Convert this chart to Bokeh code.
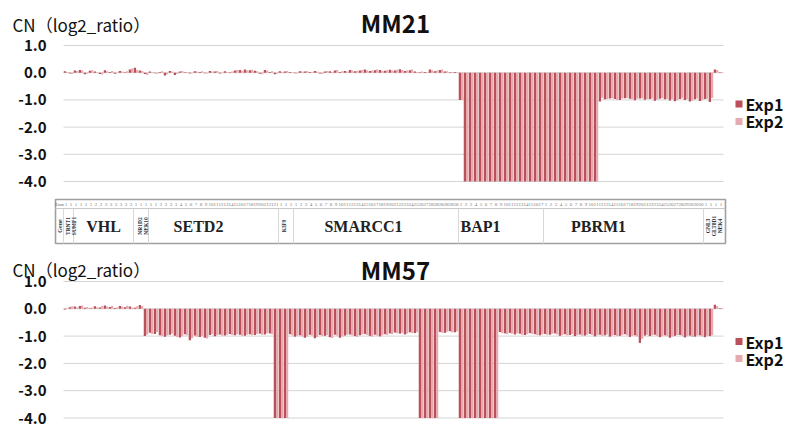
import numpy as np
from bokeh.plotting import figure
from bokeh.models import ColumnDataSource, Range1d
from bokeh.layouts import column
from bokeh.embed import file_html
from bokeh.resources import INLINE
from bokeh.core.properties import value

# ---------------- data ----------------
N_PROBES = 132
PROBES = list(range(N_PROBES))
SERIES = ["Exp1", "Exp2"]
Y_TICKS = [1.0, 0.0, -1.0, -2.0, -3.0, -4.0]
Y_TICK_LABELS = ["1.0", "0.0", "-1.0", "-2.0", "-3.0", "-4.0"]
Y_LABEL = "CN（log2_ratio）"

MM21_EXP1 = [
    0.05, -0.03, 0.08, 0.10, -0.06, 0.07, 0.04, -0.05, 0.09, 0.03,
    -0.04, 0.06, 0.02, 0.12, 0.18, 0.08, -0.05, 0.04, -0.02, 0.03,
    -0.10, 0.06, -0.08, 0.04, 0.02, -0.03, 0.05, 0.03, -0.02, 0.06,
    0.04, -0.03, 0.05, 0.02, 0.08, 0.10, 0.12, 0.09, 0.07, -0.04,
    0.10, 0.03, -0.06, 0.05, 0.04, 0.03, -0.02, 0.05, 0.04, 0.03,
    0.06, -0.03, 0.04, 0.05, 0.08, 0.03, 0.06, 0.10, 0.05, 0.08,
    0.12, 0.06, 0.09, 0.10, 0.07, 0.11, 0.08, 0.13, 0.06, 0.09,
    0.04, 0.02, 0.03, 0.12, 0.05, 0.10, 0.04, 0.02, 0.03,
    -1.00,
    -4.0, -4.0, -4.0, -4.0, -4.0, -4.0, -4.0, -4.0, -4.0, -4.0,
    -4.0, -4.0, -4.0, -4.0, -4.0, -4.0, -4.0, -4.0, -4.0, -4.0,
    -4.0, -4.0, -4.0, -4.0, -4.0, -4.0, -4.0,
    -1.06, -0.98, -0.95, -0.97, -1.00, -0.94, -0.96, -1.01, -0.95, -0.99,
    -0.97, -1.03, -0.96, -0.98, -1.02, -1.05, -0.97, -1.00, -1.06, -0.98,
    -1.04, -0.97, -1.08,
    0.12, 0.02,
]
MM21_EXP2 = [
    0.03, -0.05, 0.06, 0.08, -0.04, 0.09, 0.02, -0.07, 0.05, 0.06,
    -0.02, 0.04, 0.05, 0.15, 0.10, 0.06, -0.08, 0.02, -0.04, 0.05,
    -0.07, 0.04, -0.05, 0.06, 0.03, -0.02, 0.04, 0.05, -0.03, 0.04,
    0.06, -0.02, 0.03, 0.04, 0.10, 0.07, 0.09, 0.11, 0.05, -0.06,
    0.08, 0.05, -0.04, 0.03, 0.06, 0.02, -0.03, 0.04, 0.06, 0.02,
    0.04, -0.05, 0.06, 0.03, 0.10, 0.05, 0.04, 0.08, 0.07, 0.10,
    0.09, 0.08, 0.12, 0.07, 0.09, 0.08, 0.11, 0.10, 0.08, 0.12,
    0.03, 0.04, 0.02, 0.09, 0.08, 0.12, 0.05, 0.03, 0.02,
    -1.00,
    -4.0, -4.0, -4.0, -4.0, -4.0, -4.0, -4.0, -4.0, -4.0, -4.0,
    -4.0, -4.0, -4.0, -4.0, -4.0, -4.0, -4.0, -4.0, -4.0, -4.0,
    -4.0, -4.0, -4.0, -4.0, -4.0, -4.0, -4.0,
    -0.92, -0.97, -0.94, -0.99, -0.95, -0.93, -0.98, -0.96, -0.94, -0.97,
    -0.95, -0.99, -0.93, -0.96, -0.97, -1.01, -0.94, -0.98, -1.03, -0.95,
    -1.01, -0.96, -0.93,
    0.10, 0.02,
]
MM57_EXP1 = [
    -0.03, 0.06, 0.08, 0.10, 0.04, 0.02, 0.09, 0.05, 0.12, 0.07,
    0.03, 0.10, 0.06, 0.08, 0.04, 0.14,
    -1.00, -0.88, -0.92, -0.97, -1.02, -0.95, -0.99, -1.05, -0.93, -1.15,
    -0.98, -1.03, -1.06, -0.96, -1.01, -0.94, -0.98, -0.92, -0.97, -0.95,
    -0.99, -0.93, -0.96, -0.91, -0.94, -0.90,
    -4.0, -4.0, -4.0,
    -0.93, -1.02, -0.97, -1.06, -0.95, -1.08, -0.96, -0.99, -1.04, -0.95,
    -1.06, -0.98, -0.94, -1.00, -0.97, -0.92, -0.99, -0.95, -1.01, -0.93,
    -0.90, -0.87, -0.91, -0.94, -0.86, -0.89,
    -4.0, -4.0, -4.0, -4.0,
    -0.85, -0.88, -0.82, -0.86,
    -4.0, -4.0, -4.0, -4.0, -4.0, -4.0, -4.0, -4.0,
    -0.85, -0.90, -0.88, -0.94, -0.91, -0.96, -0.89, -0.93, -0.97, -0.92,
    -0.95, -0.90, -0.99, -0.93, -0.96, -1.00, -0.94, -0.98, -0.92, -1.01,
    -0.95, -0.97, -1.02, -0.96, -0.99, -0.93, -1.03, -0.97, -1.25, -0.98,
    -1.00, -0.95, -1.04, -0.97, -1.06, -0.99, -0.96, -1.05, -0.98, -1.02,
    -0.97, -1.04, -1.00,
    0.15, 0.02,
]
MM57_EXP2 = [
    0.02, 0.09, 0.05, 0.12, 0.07, 0.05, 0.06, 0.10, 0.08, 0.11,
    0.06, 0.08, 0.11, 0.05, 0.09, 0.10,
    -0.95, -0.92, -0.86, -1.00, -0.98, -0.91, -1.03, -1.01, -0.97, -1.08,
    -1.02, -0.99, -1.09, -0.93, -0.97, -0.98, -0.95, -0.96, -0.93, -0.99,
    -0.95, -0.97, -0.92, -0.95, -0.90, -0.93,
    -4.0, -4.0, -4.0,
    -0.97, -0.99, -1.01, -1.02, -0.98, -1.04, -0.99, -0.96, -1.07, -0.98,
    -1.02, -0.95, -0.97, -1.03, -0.94, -0.96, -1.02, -0.98, -0.97, -0.96,
    -0.93, -0.90, -0.88, -0.91, -0.89, -0.86,
    -4.0, -4.0, -4.0, -4.0,
    -0.88, -0.84, -0.87, -0.83,
    -4.0, -4.0, -4.0, -4.0, -4.0, -4.0, -4.0, -4.0,
    -0.89, -0.93, -0.91, -0.90, -0.95, -0.93, -0.92, -0.96, -0.94, -0.95,
    -0.92, -0.94, -0.96, -0.97, -0.93, -0.97, -0.98, -0.95, -0.96, -0.97,
    -0.99, -0.94, -0.98, -1.00, -0.96, -0.97, -0.99, -1.01, -1.10, -0.95,
    -0.97, -0.99, -1.01, -1.00, -1.02, -0.96, -0.99, -1.01, -1.03, -0.98,
    -1.01, -0.99, -0.97,
    0.10, 0.03,
]

# gene annotation table
GENE_NAMES = ["TRNT1\nSUMF1", "VHL", "NR1D2\nNEK10", "SETD2", "KIF9",
              "SMARCC1", "BAP1", "PBRM1", "GNL3\nGLT8D1\nNEK4"]
GENE_FIRST = [0, 2, 14, 17, 43, 46, 79, 96, 128]
GENE_LAST = [1, 13, 16, 42, 45, 78, 95, 127, 131]
GENE_BIG = [False, True, False, True, False, True, True, True, False]
EXON_LABELS = (
    "1 1 "
    "1 1 1 1 2 2 3 3 3 3 3 3 "
    "1 1 1 "
    "1 1 2 2 3 3 4 5 6 7 8 9 10 11 12 13 14 15 16 17 18 19 20 21 21 21 "
    "1 1 1 "
    "1 2 3 4 5 6 7 8 9 10 11 12 13 14 15 16 17 18 19 20 21 22 23 24 25 26 27 28 28 28 28 28 28 "
    "1 2 3 4 5 6 7 8 9 10 11 12 13 14 15 16 17 "
    "1 2 3 4 5 6 7 8 9 10 11 12 13 14 15 16 17 18 19 20 21 22 23 24 25 26 27 28 29 30 30 30 "
    "1 1 1 1"
).split()

for arr in (MM21_EXP1, MM21_EXP2, MM57_EXP1, MM57_EXP2, EXON_LABELS):
    assert len(arr) == N_PROBES, len(arr)

# ---------------- style / layout ----------------
W = 786
PX_PER_PROBE = 5.0
FRAME_X0 = 63.0            # pixel where probe -0.5 starts
X_START = -0.5 - FRAME_X0 / PX_PER_PROBE
X_END = X_START + W / PX_PER_PROBE
C_EXP1 = "#bb4f5a"
C_EXP2 = "#e6aab0"
TXT = "#111111"
SANS = "Noto Sans CJK JP"
SERIF = "Liberation Serif"
DODGE = 0.225
BAR_W = 0.45
TICK_X = -3.9              # right edge of tick labels (probe units)
CN_X = -10.7
TITLE_X = 65.9
LEG_MARK_X = 134.6
LEG_TEXT_X = 135.9
GENE_LABEL_AT = [0.9, 7.5, 15.3, 26.5, 43.5, 59.5, 82.9, 106.5, 129.5]


def base_fig(height, y0, y1):
    p = figure(width=W, height=height, x_range=Range1d(X_START, X_END),
               y_range=Range1d(y0, y1), x_axis_type=None, y_axis_type=None,
               output_backend="svg", toolbar_location=None,
               min_border=0, min_border_left=0, min_border_right=0,
               min_border_top=0, min_border_bottom=0)
    p.outline_line_color = None
    p.background_fill_color = "white"
    p.border_fill_color = "white"
    return p


def chart(name, exp1, exp2, height, px_unit, px_one, cn_y, title_y, leg_y):
    y_top = 1.0 + px_one / px_unit
    y_bot = 1.0 - (height - px_one) / px_unit
    p = base_fig(height, y_bot, y_top)
    # grid lines at the tick values
    p.segment(x0=[-0.5] * len(Y_TICKS), x1=[N_PROBES - 0.5] * len(Y_TICKS),
              y0=Y_TICKS, y1=Y_TICKS, line_color="#d4d4d4", line_width=1)
    # tick labels
    p.text(x=[TICK_X] * len(Y_TICKS), y=Y_TICKS, text=Y_TICK_LABELS,
           text_font=value(SANS), text_font_size="15px", text_font_style="bold",
           text_color=TXT, text_align="right", text_baseline="middle")
    src = ColumnDataSource(dict(
        x1=[i - DODGE for i in PROBES], x2=[i + DODGE for i in PROBES],
        e1=exp1, e2=exp2))
    p.vbar(x="x1", width=BAR_W, top="e1", bottom=0, source=src,
           fill_color=C_EXP1, line_color=None)
    p.vbar(x="x2", width=BAR_W, top="e2", bottom=0, source=src,
           fill_color=C_EXP2, line_color=None)
    p.text(x=[CN_X], y=[cn_y], text=[Y_LABEL], text_font=value(SANS),
           text_font_size="17px", text_color=TXT, text_align="left",
           text_baseline="middle")
    p.text(x=[TITLE_X], y=[title_y], text=[name], text_font=value(SANS),
           text_font_size="24px", text_font_style="bold", text_color=TXT,
           text_align="center", text_baseline="middle")
    # legend
    p.scatter(x=[LEG_MARK_X] * 2, y=leg_y, marker="square", size=7,
              fill_color=[C_EXP1, C_EXP2], line_color=None)
    p.text(x=[LEG_TEXT_X] * 2, y=leg_y, text=SERIES, text_font=value(SANS),
           text_font_size="16px", text_font_style="bold", text_color=TXT,
           text_align="left", text_baseline="middle")
    return p


# top chart: page rows 0..191; 1.0 at px 45, 27.2 px per unit
top_chart = chart("MM21", MM21_EXP1, MM21_EXP2, 191, 27.2, 45,
                  1.77, 1.85, [-1.151, -1.794])

# ---------------- gene table (page rows 191..247) ----------------
T_H = 56
T_UNIT = 44.0
T_TOP_PX = 8.0
tbl = base_fig(T_H, -(T_H - T_TOP_PX - T_UNIT) / T_UNIT, 1.0 + T_TOP_PX / T_UNIT)
X0, X1 = -2.1, N_PROBES - 0.1
ROW = 0.795
tbl.quad(left=[X0], right=[X1], bottom=[0], top=[1], fill_color="white",
         line_color="#a0a0a0", line_width=1.6)
tbl.segment(x0=[X0], x1=[X1], y0=[ROW], y1=[ROW], line_color="#c8c8c8", line_width=1)
seps = [X0 + 1.6] + [f - 0.5 for f in GENE_FIRST[1:]]
tbl.segment(x0=seps, x1=seps, y0=[0] * len(seps), y1=[ROW] * len(seps),
            line_color="#d8d8d8", line_width=1)
tbl.text(x=PROBES, y=[(1 + ROW) / 2] * N_PROBES, text=EXON_LABELS,
         text_font=value(SERIF), text_font_size="5px", text_color="#777777",
         text_align="center", text_baseline="middle")
tbl.text(x=[-1.3], y=[(1 + ROW) / 2], text=["Exon"], text_font=value(SERIF),
         text_font_size="4px", text_color="#555555", text_align="center",
         text_baseline="middle")
tbl.text(x=[-1.3], y=[ROW / 2], text=["Gene"], angle=np.pi / 2, text_font=value(SERIF),
         text_font_size="6px", text_font_style="bold", text_color="#333333",
         text_align="center", text_baseline="middle")
big = [i for i, b in enumerate(GENE_BIG) if b]
small = [i for i, b in enumerate(GENE_BIG) if not b]
tbl.text(x=[GENE_LABEL_AT[i] for i in big], y=[ROW / 2] * len(big),
         text=[GENE_NAMES[i] for i in big], text_font=value(SERIF),
         text_font_size="16px", text_font_style="bold", text_color="#222222",
         text_align="center", text_baseline="middle")
tbl.text(x=[GENE_LABEL_AT[i] for i in small], y=[ROW / 2] * len(small),
         text=[GENE_NAMES[i] for i in small], angle=np.pi / 2, text_font=value(SERIF),
         text_font_size="5.5px", text_font_style="bold", text_color="#333333",
         text_align="center", text_baseline="middle", text_line_height=1.0)

# bottom chart: page rows 247..429; 1.0 at px 281 (34 into figure), 27.3 px per unit
bottom_chart = chart("MM57", MM57_EXP1, MM57_EXP2, 182, 27.3, 34,
                     1.44, 1.44, [-1.198, -1.821])

layout = column(top_chart, tbl, bottom_chart, spacing=0)
open("out.html", "w").write(file_html(layout, INLINE))
